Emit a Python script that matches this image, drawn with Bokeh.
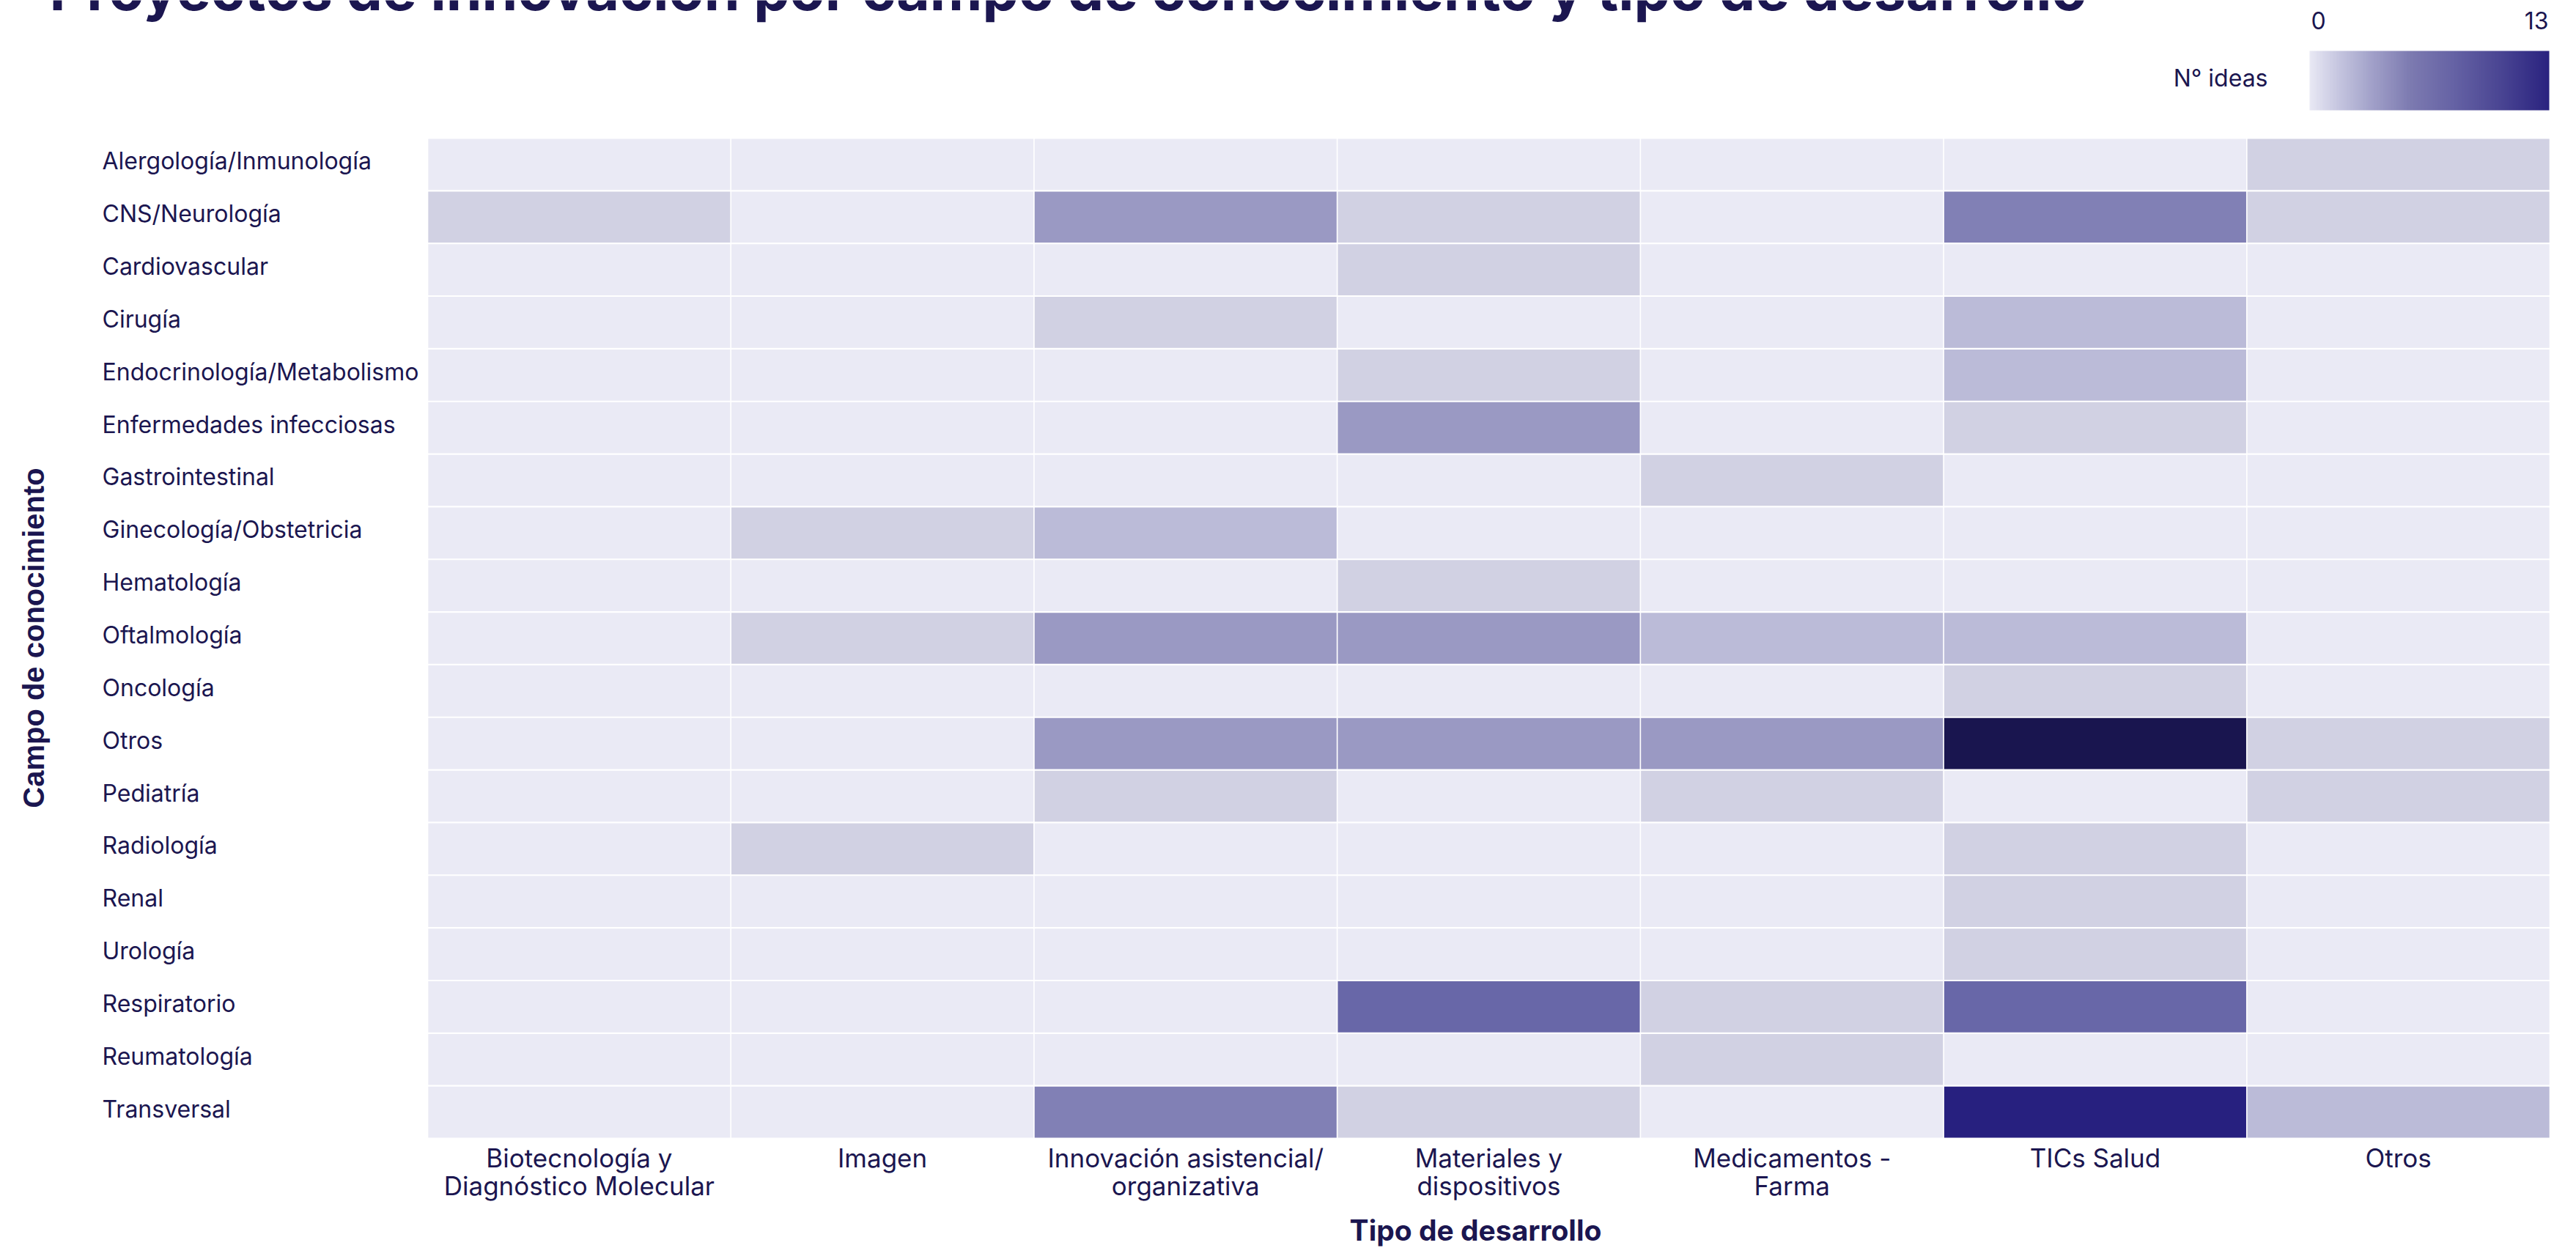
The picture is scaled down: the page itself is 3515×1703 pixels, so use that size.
import numpy as np
from bokeh.plotting import figure
from bokeh.models import (ColumnDataSource, LinearColorMapper, ColorBar, Label,
                          Range1d, FixedTicker)
from bokeh.core.properties import value
from bokeh.embed import file_html
from bokeh.resources import INLINE

# ---------------- data ----------------
campos = ["Alergología/Inmunología", "CNS/Neurología", "Cardiovascular", "Cirugía",
          "Endocrinología/Metabolismo", "Enfermedades infecciosas", "Gastrointestinal",
          "Ginecología/Obstetricia", "Hematología", "Oftalmología", "Oncología", "Otros",
          "Pediatría", "Radiología", "Renal", "Urología", "Respiratorio", "Reumatología",
          "Transversal"]
tipos = ["Biotecnología y\nDiagnóstico Molecular", "Imagen", "Innovación asistencial/\norganizativa",
         "Materiales y\ndispositivos", "Medicamentos -\nFarma", "TICs Salud", "Otros"]

biotecnologia = [0, 1, 0, 0, 0, 0, 0, 0, 0, 0, 0, 0, 0, 0, 0, 0, 0, 0, 0]
imagen        = [0, 0, 0, 0, 0, 0, 0, 1, 0, 1, 0, 0, 0, 1, 0, 0, 0, 0, 0]
innovacion    = [0, 3, 0, 1, 0, 0, 0, 2, 0, 3, 0, 3, 1, 0, 0, 0, 0, 0, 4]
materiales    = [0, 1, 1, 0, 1, 3, 0, 0, 1, 3, 0, 3, 0, 0, 0, 0, 5, 0, 1]
medicamentos  = [0, 0, 0, 0, 0, 0, 1, 0, 0, 2, 0, 3, 1, 0, 0, 0, 1, 1, 0]
tics_salud    = [0, 4, 0, 2, 2, 1, 0, 0, 0, 2, 1, 13, 0, 1, 1, 1, 5, 0, 12]
otros         = [1, 1, 0, 0, 0, 0, 0, 0, 0, 0, 0, 1, 1, 0, 0, 0, 0, 0, 2]
series = [biotecnologia, imagen, innovacion, materiales, medicamentos, tics_salud, otros]

x_title = "Tipo de desarrollo"
y_title = "Campo de conocimiento"
legend_title = "N° ideas"
legend_min, legend_max = 0, 13
title_text = "Proyectos de innovación por campo de conocimiento y tipo de desarrollo"

# ---------------- styling ----------------
NAVY = "#1B1650"
FONT = "Inter"
cell_palette = ["#EAEAF5", "#D1D1E3", "#BBBBD8", "#9A99C3", "#8180B5", "#6867A8",
                "#5B58A0", "#504C99", "#464194", "#3D378E", "#343089", "#2D2784",
                "#27207F", "#19154F"]

def interp_palette(stops, n=256):
    pos = [s[0] for s in stops]
    rgb = np.array([[int(c[i:i + 2], 16) for i in (1, 3, 5)] for _, c in stops], float)
    out = []
    for t in np.linspace(0, 1, n):
        r = np.interp(t, pos, rgb[:, 0]); g = np.interp(t, pos, rgb[:, 1]); b = np.interp(t, pos, rgb[:, 2])
        out.append("#%02x%02x%02x" % (int(r), int(g), int(b)))
    return out

legend_palette = interp_palette([(0.0, "#E9E9F5"), (0.12, "#C6C6E0"), (0.27, "#A09FC8"),
                                 (0.42, "#7D7BB1"), (0.6, "#6663A5"), (0.8, "#4A4593"),
                                 (1.0, "#2B2380")])

# ---------------- layout (page pixels) ----------------
FW, FH = 3508, 1702              # canvas = frame
X0, X1, Y0, Y1 = 583, 3479, 188, 1553   # heatmap block
CW = (X1 - X0) / len(tipos)
RH = (Y1 - Y0) / len(campos)

def dx(page_x):
    return (page_x - X0) / CW

def dy(page_y):
    return (page_y - Y0) / RH

def sy(page_y):   # screen units for annotations: from bottom, upwards
    return FH - page_y

p = figure(x_range=Range1d(dx(0), dx(FW)), y_range=Range1d(dy(FH), dy(0)),
           frame_width=FW, frame_height=FH, min_border=0,
           output_backend="svg", toolbar_location=None, title=None)
p.outline_line_color = None
p.xgrid.visible = False
p.ygrid.visible = False
p.xaxis.visible = False
p.yaxis.visible = False

# cells: column index j -> x centre j+0.5, row index i -> y centre i+0.5 (top row first)
xs, ys, ns = [], [], []
for j, t in enumerate(tipos):
    for i, c in enumerate(campos):
        xs.append(j + 0.5); ys.append(i + 0.5); ns.append(series[j][i])
src = ColumnDataSource(dict(x=xs, y=ys, n=ns))

mapper = LinearColorMapper(palette=cell_palette, low=legend_min, high=legend_max)
p.rect(x="x", y="y", width=0.996, height=0.97, source=src,
       fill_color={"field": "n", "transform": mapper}, line_color=None)

# column (category) labels under the grid
col_src = ColumnDataSource(dict(x=[j + 0.5 for j in range(len(tipos))],
                                y=[dy(1558)] * len(tipos), t=tipos))
p.text(x="x", y="y", text="t", source=col_src, text_align="center", text_baseline="top",
       text_font=value(FONT), text_font_size="35px", text_color=NAVY, text_line_height=0.92)

# row (category) labels, left aligned
row_src = ColumnDataSource(dict(x=[dx(139)] * len(campos),
                                y=[i + 0.5 - 4.5 / RH for i in range(len(campos))], t=campos))
p.text(x="x", y="y", text="t", source=row_src, text_align="left", text_baseline="middle",
       text_font=value(FONT), text_font_size="32px", text_color=NAVY)

# axis titles
p.add_layout(Label(x=2013, y=sy(1678), x_units="screen", y_units="screen", text=x_title,
                   text_align="center", text_baseline="middle", text_font=FONT,
                   text_font_style="bold", text_font_size="39px", text_color=NAVY))
p.add_layout(Label(x=45, y=sy(870), x_units="screen", y_units="screen",
                   text=y_title, angle=np.pi / 2, text_align="center",
                   text_baseline="middle", text_font="Liberation Sans",
                   text_font_style="bold", text_font_size="40px", text_color=NAVY))

# chart title (runs off the top edge)
p.add_layout(Label(x=67, y=sy(-15), x_units="screen", y_units="screen", text=title_text,
                   text_align="left", text_baseline="alphabetic", text_font=FONT,
                   text_font_style="bold", text_font_size="78.5px", text_color=NAVY))

# legend
leg_mapper = LinearColorMapper(palette=legend_palette, low=legend_min, high=legend_max)
cb = ColorBar(color_mapper=leg_mapper, orientation="horizontal", width=327, height=81,
              location=(3151, sy(150)), padding=0, label_standoff=0,
              major_tick_line_color=None, minor_tick_line_color=None, bar_line_color=None,
              border_line_color=None, background_fill_alpha=0,
              major_label_text_font_size="0px", ticker=FixedTicker(ticks=[]))
p.add_layout(cb, "center")
p.add_layout(Label(x=3153, y=sy(27), x_units="screen", y_units="screen", text=str(legend_min),
                   text_align="left", text_baseline="middle", text_font=FONT,
                   text_font_size="32px", text_color=NAVY))
p.add_layout(Label(x=3477, y=sy(27), x_units="screen", y_units="screen", text=str(legend_max),
                   text_align="right", text_baseline="middle", text_font=FONT,
                   text_font_size="32px", text_color=NAVY))
p.add_layout(Label(x=3094, y=sy(106), x_units="screen", y_units="screen", text=legend_title,
                   text_align="right", text_baseline="middle", text_font=FONT,
                   text_font_size="32px", text_color=NAVY))

open("out.html", "w").write(file_html(p, INLINE))
